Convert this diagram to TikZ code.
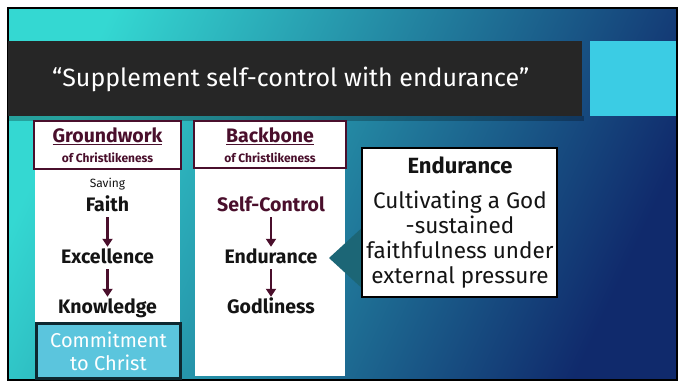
\documentclass[tikz,border=0pt]{standalone}
\usepackage{fontspec}
\setmainfont{Fira Sans}
\usetikzlibrary{arrows.meta}
\definecolor{bgA}{HTML}{34D8D2}
\definecolor{bgB}{HTML}{1F93B9}
\definecolor{bgC}{HTML}{102A6C}
\definecolor{titlebar}{HTML}{262626}
\definecolor{accent}{HTML}{3BCCE4}
\definecolor{maroon}{HTML}{4A0F2C}
\definecolor{commit}{HTML}{5BC5DD}
\definecolor{commitborder}{HTML}{0D2830}
\definecolor{pointer}{HTML}{1C6676}
\definecolor{ink}{HTML}{141414}
\tikzset{
  word/.style={font=\fontsize{19.5}{23}\selectfont\bfseries, text=ink, inner sep=0pt, text height=14pt, text depth=4pt},
  arr/.style={draw=maroon, line width=2.8pt, -{Triangle[length=8pt,width=10pt]}, shorten <=2pt, shorten >=2pt},
  headbox/.style={draw=maroon, line width=2pt, fill=white, inner sep=0pt},
  headtitle/.style={font=\fontsize{19.5}{23}\selectfont\bfseries, text=maroon, inner sep=0pt},
  headsub/.style={font=\fontsize{12}{14}\selectfont\bfseries, text=maroon, inner sep=0pt},
  panel/.style={fill=white, draw=none}
}
\begin{document}
\begin{tikzpicture}[x=1pt,y=-1pt]
\useasboundingbox (0,0) rectangle (686,381);
\fill[white] (0,0) rectangle (686,381);
% slide background
\shade[top color=bgA, middle color=bgB, bottom color=bgC, shading angle=65] (8,8) rectangle (677,380);
\draw[black, line width=1.5pt] (8,8) rectangle (677,380);
% title bar
\fill[black, opacity=0.25] (8,116) rectangle (584,121);
\fill[titlebar] (8,41) rectangle (582,116);
\fill[accent] (590,41) rectangle (676,116);
\node[anchor=west, text=white, font=\fontsize{25}{30}\selectfont, inner sep=0pt] (title) at (52,79) {“Supplement self-control with endurance”};

% left column
\fill[panel] (35,168) rectangle (180,322);
\node[headbox, minimum width=147pt, minimum height=48pt] (ghead) at (107.5,145) {};
\node[headtitle] (gtitle) at (107.5,136) {\underline{Groundwork}};
\node[headsub] (gsub) at (107.5,158) {of Christlikeness};
\node[font=\fontsize{12}{14}\selectfont, text=ink, inner sep=0pt] (saving) at (107.5,184) {Saving};
\node[word] (faith) at (107.5,206) {Faith};
\node[word] (excel) at (107.5,258) {Excellence};
\node[word] (know) at (107.5,308) {Knowledge};
\draw[arr] (faith) -- (excel);
\draw[arr] (excel) -- (know);
\node[draw=commitborder, line width=3pt, fill=commit, minimum width=144pt, minimum height=55pt, inner sep=0pt, text=white, align=center, font=\fontsize{20}{23}\selectfont] (commit) at (108.5,351) {Commitment\\to Christ};

% middle column
\fill[panel] (195,167) rectangle (345,376);
\node[headbox, minimum width=152pt, minimum height=47pt] (bhead) at (270,144.5) {};
\node[headtitle] (btitle) at (270,136) {\underline{Backbone}};
\node[headsub] (bsub) at (270,158) {of Christlikeness};
\node[word, text=maroon] (self) at (271,206) {Self-Control};
\node[word] (endur) at (271,258) {Endurance};
\node[word] (godly) at (271,308) {Godliness};
\draw[arr] (self) -- (endur);
\draw[arr] (endur) -- (godly);

% callout
\coordinate (tip) at (329,258);
\fill[pointer] (tip) -- (365,225) -- (365,291) -- cycle;
\node[draw=black, line width=2.5pt, fill=white, minimum width=195pt, minimum height=149pt, inner sep=0pt] (callout) at (459.5,222.5) {};
\node[font=\fontsize{22}{25}\selectfont\bfseries, text=ink, inner sep=0pt] (ctitle) at (460,165) {Endurance};
\node[font=\fontsize{22.5}{25}\selectfont, text=ink, align=center, inner sep=0pt] (cbody) at (460,240) {Cultivating a God\\-sustained\\faithfulness under\\external pressure};
\end{tikzpicture}
\end{document}
